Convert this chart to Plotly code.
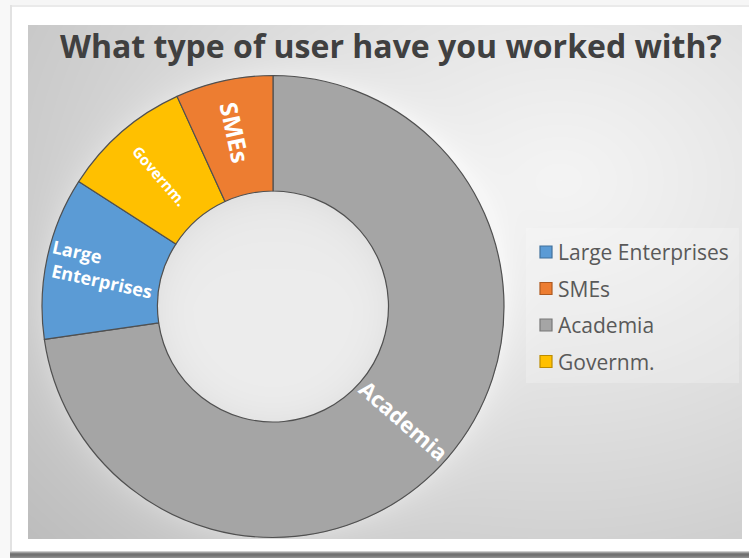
import base64
import math
import struct
import zlib

import numpy as np
import plotly.graph_objects as go

# Survey answers: what type of user have you worked with?
labels = ["Large Enterprises", "SMEs", "Academia", "Governm."]
counts = [5, 3, 32, 4]
colors = ["#5B9BD5", "#ED7D31", "#A5A5A5", "#FFC000"]
edge_colors = ["#41719C", "#AE5A21", "#787878", "#BC8C00"]
# "Large" padded so both lines start at the same edge
slice_text = ["Large" + "\u00a0" * 13 + "<br>Enterprises", "SMEs", "Academia", "Governm."]
text_sizes = [19, 24, 22, 15]

# clockwise order of the ring, starting at 12 o'clock
ring_order = [2, 0, 3, 1]

W, H = 749, 558
CX, CY, R_OUT = 273.0, 306.5, 231.0
HOLE = 0.5
LABEL_FONT = "Open Sans"


def png_uri(gray):
    """Encode a 2-D array of grey levels as a PNG data URI."""
    g = np.clip(gray, 0, 255).astype(np.uint8)
    rgb = np.repeat(g[:, :, None], 3, axis=2)
    raw = b"".join(b"\x00" + row.tobytes() for row in rgb)

    def chunk(tag, data):
        c = struct.pack(">I", len(data)) + tag + data
        return c + struct.pack(">I", zlib.crc32(tag + data) & 0xFFFFFFFF)

    h, w = g.shape
    png = b"\x89PNG\r\n\x1a\n"
    png += chunk(b"IHDR", struct.pack(">IIBBBBB", w, h, 8, 2, 0, 0, 0))
    png += chunk(b"IDAT", zlib.compress(raw, 9))
    png += chunk(b"IEND", b"")
    return "data:image/png;base64," + base64.b64encode(png).decode()


# chart backdrop: white frame, shaded plot panel, glow and recessed hole
yy, xx = np.mgrid[0:H, 0:W].astype(float)
bg = np.full((H, W), 255.0)
bg[:5, :] = 246
bg[:, :10] = 248
bg[5:7, 10:] = 234
bg[5:, 10:12] = 226
shadow = [205, 160, 125, 112, 116, 128, 142]
for i, v in enumerate(shadow):
    if 551 + i < H:
        bg[551 + i, 10:] = v

panel = (xx >= 28) & (xx <= 741) & (yy >= 25) & (yy <= 538)
d = np.sqrt(((xx - 560) / 560) ** 2 + ((yy - 180) / 430) ** 2)
shade = 244 - 42 * np.clip(d, 0, 1.3) ** 1.15
rr = np.hypot(xx - CX, yy - CY)
glow = 12 * np.exp(-np.clip(rr - R_OUT, 0, None) / 14.0) * (rr > R_OUT)
shade = np.minimum(shade + glow, 246)
r_in = R_OUT * HOLE
hole = rr < r_in
hole_shade = 237 - 9 * (rr / r_in) ** 6 - 3 * np.clip((CY - yy) / r_in, 0, 1)
shade = np.where(hole, hole_shade, shade)
bg = np.where(panel, shade, bg)

bg_uri = png_uri(bg)

ring_values = [counts[i] for i in ring_order]
ring_labels = [labels[i] for i in ring_order]
ring_text = [slice_text[i] for i in ring_order]
total = sum(ring_values)

# the large Academia slice gets its radial label as an annotation,
# centred on the slice's mid-angle halfway across the ring
acad_pos = ring_labels.index("Academia")
start = sum(ring_values[:acad_pos]) / total * 360
mid = start + ring_values[acad_pos] / total * 180
r_mid = R_OUT * (1 + HOLE) / 2
acad_x = CX + r_mid * math.sin(math.radians(mid))
acad_y = CY - r_mid * math.cos(math.radians(mid))
ring_text[acad_pos] = ""

fig = go.Figure()

fig.add_trace(
    go.Pie(
        labels=ring_labels,
        values=ring_values,
        text=ring_text,
        marker=dict(
            colors=[colors[i] for i in ring_order],
            line=dict(color="#505050", width=1.2),
        ),
        textinfo="text",
        textposition="inside",
        insidetextorientation="radial",
        textfont=dict(
            family=LABEL_FONT,
            color="white",
            size=[text_sizes[i] for i in ring_order],
            weight="bold",
        ),
        hole=HOLE,
        sort=False,
        direction="clockwise",
        rotation=0,
        showlegend=False,
        hoverinfo="label+value+percent",
        domain=dict(
            x=[(CX - R_OUT) / W, (CX + R_OUT) / W],
            y=[(H - CY - R_OUT) / H, (H - CY + R_OUT) / H],
        ),
    )
)

# legend: square swatches and names, in survey order
LEG_X, LEG_Y0, LEG_DY = 540, 252, 36.5
shapes = [
    dict(
        type="rect",
        xref="paper",
        yref="paper",
        x0=526 / W,
        x1=739 / W,
        y0=1 - 383 / H,
        y1=1 - 228 / H,
        fillcolor="rgba(255,255,255,0.22)",
        line=dict(width=0),
        layer="below",
    )
]
annotations = [
    dict(
        text="What type of user have you worked with?",
        xref="paper",
        yref="paper",
        x=391 / W,
        y=1 - 45 / H,
        xanchor="center",
        yanchor="middle",
        showarrow=False,
        font=dict(family="Open Sans", size=32, color="#404040", weight="bold"),
    ),
    dict(
        text="Academia",
        xref="paper",
        yref="paper",
        x=acad_x / W,
        y=1 - acad_y / H,
        xanchor="center",
        yanchor="middle",
        textangle=mid - 90,
        showarrow=False,
        font=dict(family=LABEL_FONT, size=text_sizes[2], color="white", weight="bold"),
    ),
]
for k, (name, col, edge) in enumerate(zip(labels, colors, edge_colors)):
    yc = LEG_Y0 + k * LEG_DY
    shapes.append(
        dict(
            type="rect",
            xref="paper",
            yref="paper",
            x0=LEG_X / W,
            x1=(LEG_X + 12) / W,
            y0=1 - (yc + 6) / H,
            y1=1 - (yc - 6) / H,
            fillcolor=col,
            line=dict(color=edge, width=1.2),
        )
    )
    annotations.append(
        dict(
            text=name,
            xref="paper",
            yref="paper",
            x=(LEG_X + 16) / W,
            y=1 - yc / H,
            xanchor="left",
            yanchor="middle",
            showarrow=False,
            font=dict(family="Open Sans", size=21, color="#595959"),
        )
    )

fig.update_layout(
    width=W,
    height=H,
    margin=dict(l=0, r=0, t=0, b=0),
    paper_bgcolor="white",
    images=[
        dict(
            source=bg_uri,
            xref="paper",
            yref="paper",
            x=0,
            y=1,
            sizex=1,
            sizey=1,
            sizing="stretch",
            xanchor="left",
            yanchor="top",
            layer="below",
        )
    ],
    shapes=shapes,
    annotations=annotations,
)

fig.write_html("out.html")
